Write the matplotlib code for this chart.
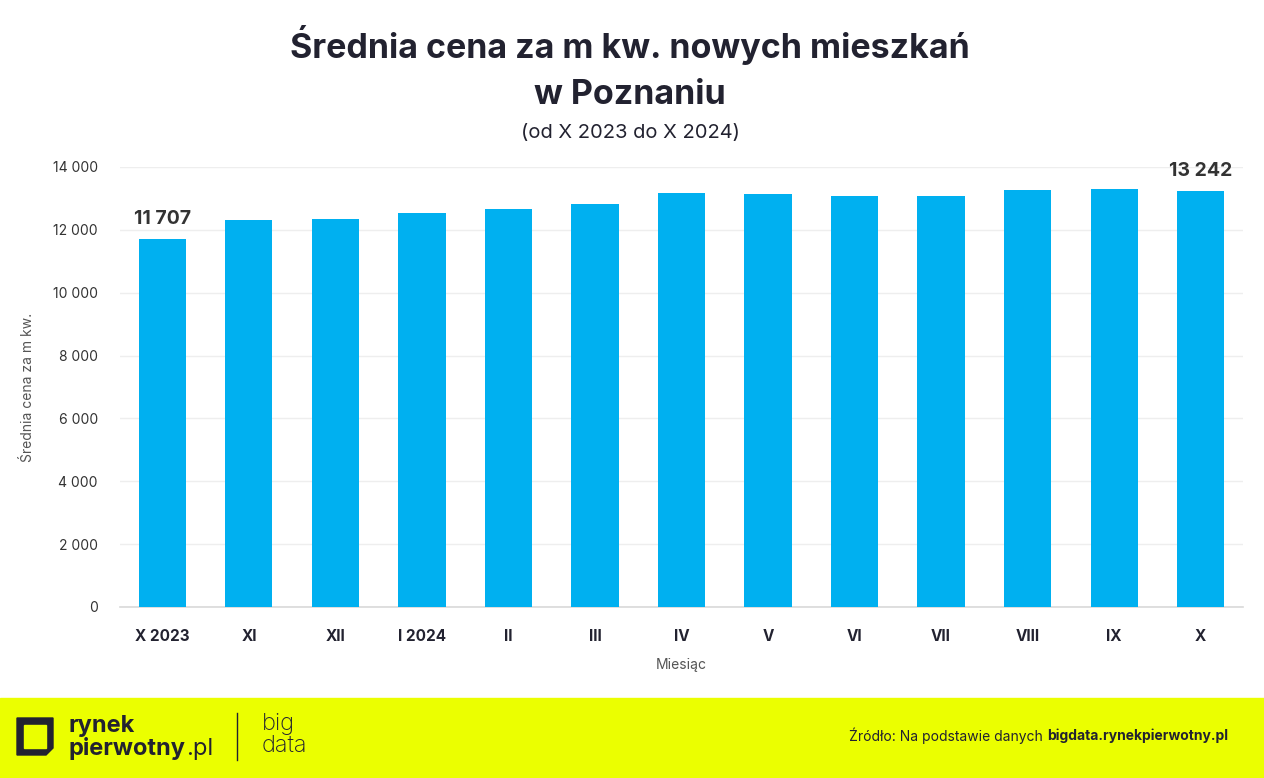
import numpy as np
import matplotlib
matplotlib.use("Agg")
import matplotlib.pyplot as plt
from matplotlib.patches import Rectangle, Polygon

plt.rcParams['font.family'] = ['Inter', 'DejaVu Sans']

# data
months = ["X 2023", "XI", "XII", "I 2024", "II", "III", "IV",
          "V", "VI", "VII", "VIII", "IX", "X"]
prices = [11707, 12316, 12337, 12547, 12663, 12811, 13175,
          13150, 13075, 13065, 13265, 13298, 13242]
yticks = [0, 2000, 4000, 6000, 8000, 10000, 12000, 14000]

bar_color = "#00B0F0"
dark = "#222230"
yellow = "#EBFF00"

fig = plt.figure(figsize=(12.64, 7.78), dpi=100)
W, H = 1264, 778

ax = fig.add_axes([120 / W, (H - 607) / H, (1243 - 120) / W, (607 - 167) / H])
x = np.arange(len(months))
ax.bar(x, prices, width=0.545, color=bar_color, zorder=3)
ax.set_xlim(-0.49, len(months) - 0.51)
ax.set_ylim(0, 14000)
ax.set_yticks(yticks)
ax.set_yticklabels([f"{v:,}".replace(",", " ") for v in yticks],
                   fontsize=10, color="#333333")
ax.set_xticks(x)
ax.set_xticklabels(months, fontsize=11, fontweight="bold", color=dark)
ax.tick_params(axis="both", length=0)
ax.tick_params(axis="y", pad=16)
ax.tick_params(axis="x", pad=16)
ax.grid(axis="y", color="#eeeeee", linewidth=1, zorder=0)
for s in ["top", "right", "left"]:
    ax.spines[s].set_visible(False)
ax.spines["bottom"].set_color("#d9d9d9")
ax.spines["bottom"].set_linewidth(1.2)

ax.set_ylabel("Średnia cena za m kw.", fontsize=10, color="#555555", labelpad=13)
ax.set_xlabel("Miesiąc", fontsize=10, color="#555555", labelpad=10)

# first and last value labels
for i in [0, len(months) - 1]:
    ax.annotate(f"{prices[i]:,}".replace(",", " "), (x[i], prices[i]),
                xytext=(0, 8), textcoords="offset points", ha="center",
                va="bottom", fontsize=14, fontweight="bold", color="#333333")

# title
fig.text(630 / W, 1 - 45 / H, "Średnia cena za m kw. nowych mieszkań",
         ha="center", va="center", fontsize=24.5, fontweight="bold", color=dark)
fig.text(630 / W, 1 - 95 / H, "w Poznaniu",
         ha="center", va="center", fontsize=24.5, fontweight="bold", color=dark)
fig.text(630 / W, 1 - 133 / H, "(od X 2023 do X 2024)",
         ha="center", va="center", fontsize=14.5, color=dark)

# footer band
fig.patches.append(Rectangle((0, 0), 1, (H - 698) / H, transform=fig.transFigure,
                             color=yellow, zorder=0))
# logo shape
pts = np.array([[17, 718], [53, 718], [53, 748], [46, 755], [17, 755]])
inner = np.array([[24, 725], [46, 725], [46, 748], [24, 748]])
fig.patches.append(Polygon([(px / W, 1 - py / H) for px, py in pts], closed=True,
                           transform=fig.transFigure, color=dark, zorder=1))
fig.patches.append(Polygon([(px / W, 1 - py / H) for px, py in inner], closed=True,
                           transform=fig.transFigure, color=yellow, zorder=2))
fig.text(68 / W, 1 - 726 / H, "rynek", fontsize=17, fontweight="bold",
         color=dark, va="center", ha="left")
t = fig.text(68 / W, 1 - 748 / H, "pierwotny", fontsize=17, fontweight="bold",
             color=dark, va="center", ha="left")
fig.text(0, 0, ".pl", fontsize=17, color=dark, va="bottom", ha="left",
         transform=matplotlib.transforms.offset_copy(
             matplotlib.transforms.blended_transform_factory(fig.transFigure, fig.transFigure),
             fig=fig, x=0, y=0, units="dots"))
fig.lines.append(plt.Line2D([237 / W, 237 / W], [1 - 713 / H, 1 - 760 / H],
                            transform=fig.transFigure, color=dark, linewidth=1))
fig.text(262 / W, 1 - 724 / H, "big", fontsize=17, fontweight="light",
         color=dark, va="center", ha="left")
fig.text(262 / W, 1 - 746 / H, "data", fontsize=17, fontweight="light",
         color=dark, va="center", ha="left")

fig.text(1047 / W, 1 - 736 / H, "Źródło: Na podstawie danych ", fontsize=10,
         color=dark, va="center", ha="right")
fig.text(1047 / W, 1 - 736 / H, "bigdata.rynekpierwotny.pl", fontsize=10,
         fontweight="bold", color=dark, va="center", ha="left")

# put ".pl" right after "pierwotny"
fig.canvas.draw()
bb = t.get_window_extent()
pl = fig.texts[-5]
pl.set_transform(fig.transFigure)
pl.set_position(((bb.x1 + 1) / W, bb.y0 / H))

fig.savefig("out.png", dpi=100, facecolor="white")
